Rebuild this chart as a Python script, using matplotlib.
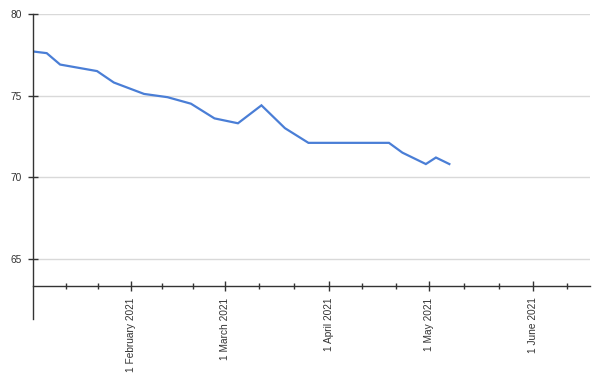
import numpy as np
import pandas as pd
import matplotlib
matplotlib.use('Agg')
import matplotlib.pyplot as plt
import matplotlib.dates as mdates

plt.rcParams['font.family'] = ['Liberation Sans', 'DejaVu Sans']

# values
dates = ['2021-01-03', '2021-01-07', '2021-01-11', '2021-01-22', '2021-01-27',
         '2021-02-05', '2021-02-12', '2021-02-19', '2021-02-26', '2021-03-05',
         '2021-03-12', '2021-03-19', '2021-03-26', '2021-04-19', '2021-04-23',
         '2021-04-30', '2021-05-03', '2021-05-07']
values = [77.7, 77.6, 76.9, 76.5, 75.8,
          75.1, 74.9, 74.5, 73.6, 73.3,
          74.4, 73.0, 72.1, 72.1, 71.5,
          70.8, 71.2, 70.8]
y_ticks = [65, 70, 75, 80]
month_ticks = ['2021-02-01', '2021-03-01', '2021-04-01', '2021-05-01', '2021-06-01']
month_labels = ['1 February 2021', '1 March 2021', '1 April 2021', '1 May 2021', '1 June 2021']
x_range = ['2021-01-02 22:00', '2021-06-17 22:00']
axis_level = 63.32

x = mdates.date2num(pd.to_datetime(dates))
lo, hi = mdates.date2num(pd.to_datetime(x_range))
majors = mdates.date2num(pd.to_datetime(month_ticks))

# minor ticks: thirds of each (visible) month
edges = mdates.date2num(pd.date_range('2021-01-01', '2021-07-01', freq='MS'))
minor = []
for a, b in zip(edges[:-1], edges[1:]):
    a = max(a, lo)
    minor += [a + (b - a) / 3, a + 2 * (b - a) / 3]
minor = [m for m in minor if lo < m < hi]

fig = plt.figure(figsize=(6, 3.82), dpi=100)
ax = fig.add_axes([33 / 600, 1 - 319 / 382, (590 - 33) / 600, (319 - 14) / 382])

ax.plot(x, values, color='#4a7ed6', lw=1.6, solid_joinstyle='miter')

ax.set_xlim(lo, hi)
ax.set_ylim(61.3, 80)
ax.set_yticks(y_ticks)
ax.set_xticks(majors)
ax.set_xticklabels(month_labels)
ax.set_xticks(minor, minor=True)

ax.set_axisbelow(True)
ax.yaxis.grid(True, color='#d9d9d9', lw=1.0)

for s in ['top', 'right']:
    ax.spines[s].set_visible(False)
ax.spines['bottom'].set_position(('data', axis_level))
for s in ['left', 'bottom']:
    ax.spines[s].set_color('#333333')
    ax.spines[s].set_linewidth(1.0)

ax.tick_params(axis='x', which='major', direction='inout', length=7.9, width=1.0,
               color='#333333', pad=4.3, labelsize=7.3, labelcolor='#333333',
               labelrotation=90)
ax.tick_params(axis='x', which='minor', direction='inout', length=4.8, width=1.0,
               color='#333333')
ax.tick_params(axis='y', direction='inout', length=7.9, width=1.0, color='#333333',
               pad=4.3, labelsize=7.3, labelcolor='#333333')

fig.savefig('out.png', dpi=100)
